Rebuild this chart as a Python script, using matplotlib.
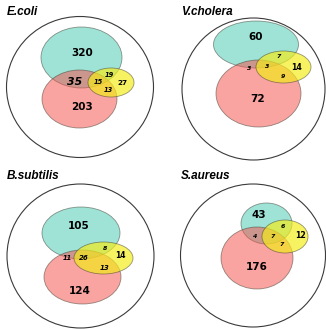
import matplotlib
matplotlib.use('Agg')
import matplotlib.pyplot as plt
from matplotlib.patches import Ellipse

# 生物種ごとの遺伝子数（領域別）
species = ["E.coli", "V.cholera", "B.subtilis", "S.aureus"]
only_a = [320, 60, 105, 43]      # 上の集合のみ
only_b = [203, 72, 124, 176]     # 下の集合のみ
only_c = [27, 14, 14, 12]        # 右の集合のみ
ab = [35, 3, 11, 4]
ac = [19, 7, 8, 6]
bc = [13, 9, 13, 7]
abc = [15, 3, 26, 7]

# パネル左上の位置（ピクセル）
origins = [(0, 0), (163, 0), (0, 164), (163, 164)]

# 楕円の配置 (cx, cy, w, h)：外円, 上, 下, 右
shapes = [
    [(80, 87, 147, 141), (81.5, 57.5, 81, 61), (79.5, 99, 75, 58), (111, 82.5, 46, 29)],
    [(90.5, 89, 143, 142), (93, 44.5, 85, 47), (95.5, 93.5, 85, 67), (120.5, 67, 55, 32)],
    [(80.5, 92, 147, 144), (81, 69, 78, 52), (82.5, 113, 77, 54), (103.5, 94, 59, 32)],
    [(90, 91.5, 145, 143), (103.5, 59.5, 51, 41), (94, 94, 72, 62), (122, 72.5, 46, 33)],
]

# ラベル位置 (x, y, size)：a, b, c, ab, ac, bc, abc の順
label_pos = [
    [(82, 53, 7.5), (82, 107, 7.5), (122, 83, 5.2), (75, 82, 7.8), (109, 75, 4.8), (108, 90, 4.8), (98, 82, 4.8)],
    [(93, 36.5, 7.5), (95, 99, 7.5), (134, 67, 5.6), (86, 68, 4.5), (116, 57, 4.5), (120, 76, 4.5), (104, 67, 4.5)],
    [(79, 62, 7.5), (80, 127, 7.5), (120, 91.5, 5.5), (67.5, 94, 4.8), (105, 84, 4.5), (105, 104.5, 5), (84, 94, 5)],
    [(95.5, 50.5, 7.5), (93.5, 103, 7.5), (137.5, 72, 5.6), (92, 72, 4.5), (120, 63, 4.5), (119, 81, 4.5), (109.5, 72, 4.5)],
]

colors = ["#40c8b0", "#f74a44", "#f4ec18"]
alphas = [0.5, 0.5, 0.68]


def main():
    fig = plt.figure(figsize=(3.26, 3.29), dpi=100)
    ax = fig.add_axes([0, 0, 1, 1])
    ax.set_xlim(0, 326)
    ax.set_ylim(329, 0)
    ax.set_axis_off()

    for i, name in enumerate(species):
        ox, oy = origins[i]
        outer, *sets = shapes[i]

        # 外側の円
        cx, cy, w, h = outer
        ax.add_patch(Ellipse((ox + cx, oy + cy), w, h, facecolor="none",
                             edgecolor="#3a3a3a", linewidth=0.8))

        # 3つの集合
        for (cx, cy, w, h), c, a in zip(sets, colors, alphas):
            ax.add_patch(Ellipse((ox + cx, oy + cy), w, h, facecolor=c, alpha=a,
                                 edgecolor="none"))
            ax.add_patch(Ellipse((ox + cx, oy + cy), w, h, facecolor="none",
                                 edgecolor=(0.25, 0.25, 0.2, 0.55), linewidth=0.6))

        # 数値ラベル
        values = [only_a[i], only_b[i], only_c[i], ab[i], ac[i], bc[i], abc[i]]
        for k, (v, (x, y, s)) in enumerate(zip(values, label_pos[i])):
            ax.text(ox + x, oy + y, str(v), ha="center", va="center",
                    fontsize=s, fontweight="bold",
                    fontstyle="italic" if k >= 3 else "normal",
                    family="DejaVu Sans")

        # タイトル
        ax.text(ox + 7 if i % 2 == 0 else ox + 18, oy + 12, name,
                ha="left", va="center", fontsize=8.5, fontweight="bold",
                fontstyle="italic", family="Liberation Sans")

    fig.savefig("out.png", dpi=100)


if __name__ == "__main__":
    main()
